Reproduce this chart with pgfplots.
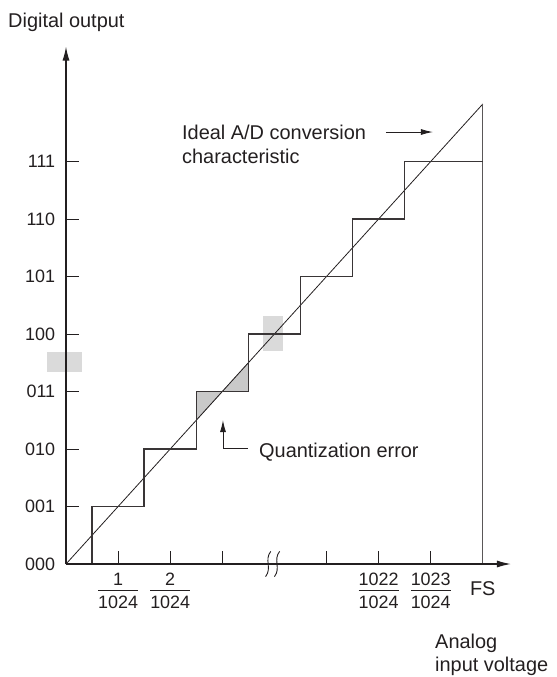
\documentclass[border=0pt]{standalone}
\usepackage{fontspec}
\setmainfont{Liberation Sans}
\usepackage{pgfplots}
\pgfplotsset{compat=1.18}
\usetikzlibrary{arrows.meta}
\definecolor{ink}{HTML}{231F20}
\definecolor{shade}{HTML}{DADADA}

% stacked fraction for the x tick labels
\newcommand\fr[2]{{\renewcommand\arraystretch{0.8}\begin{tabular}{@{}c@{}}#1\\\hline\rule{0pt}{18bp}#2\end{tabular}}}

\begin{document}
\fontsize{20}{24}\selectfont
\begin{tikzpicture}
\begin{axis}[
  x=52.1bp, y=57.5bp,
  xmin=0, xmax=8.54, ymin=0, ymax=9.0,
  axis lines=left,
  axis on top,
  clip=false,
  axis line style={ink, line width=1.2bp, -{Latex[length=14bp,width=7bp]}},
  xtick={1,2,3,5,6,7},
  xticklabels={\fr{1}{1024},\fr{2}{1024},,,\fr{1022}{1024},\fr{1023}{1024}},
  ytick={0,...,7},
  yticklabels={000,001,010,011,100,101,110,111},
  tick align=inside,
  major tick length=13bp,
  tick style={ink, line width=1bp},
  tick label style={font=\fontsize{18}{21}\selectfont, text=ink},
  xticklabel style={yshift=-2bp},
  yticklabel style={xshift=-4bp},
]
% page extent
\path (axis cs:-1.267,-1.965) rectangle (axis cs:9.405,9.809);

% highlighted boxes
\addplot[draw=none, fill=shade] coordinates {(-0.365,3.339)(0.307,3.339)(0.307,3.687)(-0.365,3.687)};
\addplot[draw=none, fill=shade] coordinates {(3.78,3.704)(4.165,3.704)(4.165,4.313)(3.78,4.313)};

% quantization error triangles
\addplot[fill=shade!92!black, draw=ink!50, line width=0.5bp] coordinates {(2.5,2.5)(2.5,3)(3,3)} -- cycle;
\addplot[fill=shade!92!black, draw=ink!50, line width=0.5bp] coordinates {(3,3)(3.5,3)(3.5,3.5)} -- cycle;

% ideal characteristic
\addplot[ink, line width=0.8bp] coordinates {(0,0)(8,8)};
% full scale line
\addplot[ink!75, line width=1bp] coordinates {(8,0)(8,8)};
% actual staircase
\addplot[ink!90, line width=1.5bp] coordinates {
  (0,0)(0.5,0)(0.5,1)(1.5,1)(1.5,2)(2.5,2)(2.5,3)(3.5,3)(3.5,4)
  (4.5,4)(4.5,5)(5.5,5)(5.5,6)(6.5,6)(6.5,7)(8,7)};

% axis break
\draw[ink, line width=0.9bp] (axis cs:3.93,0.22) .. controls (axis cs:3.80,0.07) and (axis cs:3.96,-0.07) .. (axis cs:3.83,-0.22);
\draw[ink, line width=0.9bp] (axis cs:4.10,0.22) .. controls (axis cs:3.97,0.07) and (axis cs:4.13,-0.07) .. (axis cs:4.00,-0.22);

% labels
\node[anchor=base west, inner sep=0pt, text=ink] at (axis cs:-1.113,9.322) {Digital output};
\node[anchor=base west, inner sep=0pt, text=ink] at (axis cs:7.083,-1.461) {Analog};
\node[anchor=base west, inner sep=0pt, text=ink] at (axis cs:7.083,-1.861) {input voltage};
\node[anchor=center, inner sep=0pt, text=ink] at (axis cs:8.0,-0.435) {FS};

\node[anchor=base west, inner sep=0pt, text=ink] at (axis cs:2.226,7.391) {Ideal A/D conversion};
\node[anchor=base west, inner sep=0pt, text=ink] at (axis cs:2.226,6.974) {characteristic};
\draw[ink, line width=0.9bp, -{Latex[length=12bp,width=6bp]}] (axis cs:6.14,7.513) -- (axis cs:7.044,7.513);

\node[anchor=base west, inner sep=0pt, text=ink] at (axis cs:3.704,1.861) {Quantization error};
\draw[ink, line width=0.9bp, -{Latex[length=12bp,width=6bp]}] (axis cs:3.493,2.017) -- (axis cs:3.013,2.017) -- (axis cs:3.013,2.504);
\end{axis}
\end{tikzpicture}
\end{document}
